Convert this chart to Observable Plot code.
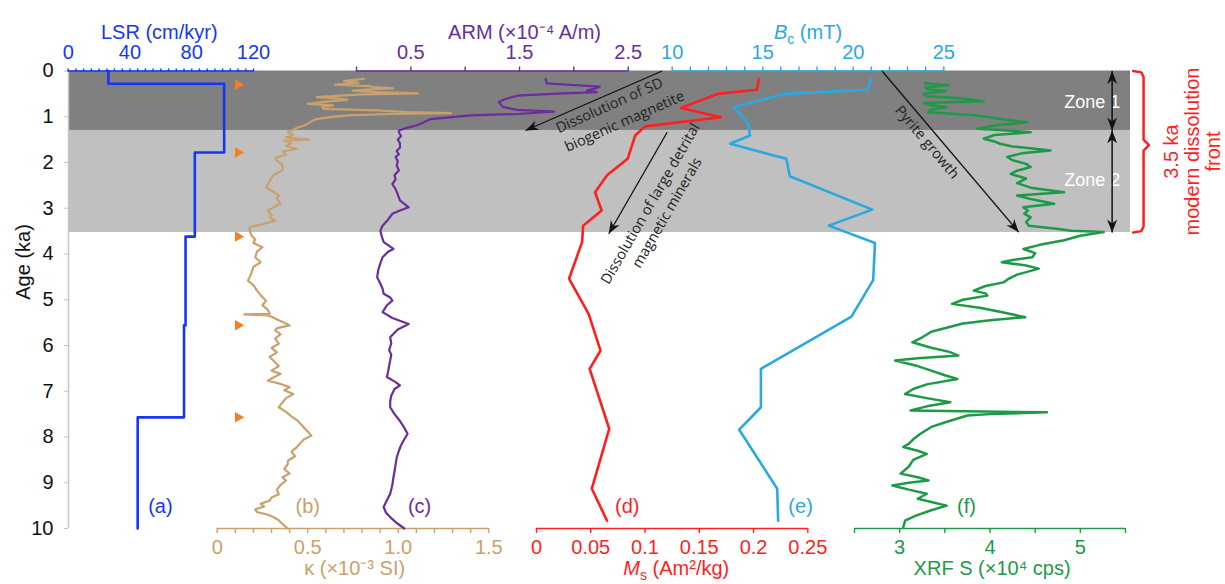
<!DOCTYPE html>
<html><head><meta charset="utf-8">
<script src="https://cdn.jsdelivr.net/npm/d3@7"></script>
<script src="https://cdn.jsdelivr.net/npm/@observablehq/plot@0.6"></script>
<style>
body{margin:0;background:#fff;}
#chart{position:relative;width:1225px;height:584px;}
#chart svg{position:absolute;left:0;top:0;}
</style></head><body><div id="chart"></div>
<script>
// ---------------- DATA ----------------
// (a) linear sedimentation rate, step profile
const lsrAge  = [0, 0.28, 1.78, 3.62, 5.56, 7.57, 10];
const lsrRate = [26, 101, 82, 76, 75, 45, 45];
// radiocarbon control points (orange triangles)
const controlAges = [0.3, 1.78, 3.62, 5.56, 7.57];

// (b) magnetic susceptibility κ (×10^-3 SI)
const kappaAge = [0.17,0.22,0.26,0.30,0.33,0.35,0.38,0.41,0.43,0.46,0.49,0.51,0.54,0.57,0.60,0.63,0.67,0.72,0.75,0.79,0.83,0.86,0.90,0.92,0.94,0.97,1.01,1.05,1.10,1.15,1.19,1.24,1.29,1.34,1.40,1.45,1.50,1.52,1.58,1.64,1.70,1.76,1.83,1.90,1.96,2.05,2.17,2.28,2.40,2.54,2.64,2.72,2.80,2.90,2.98,3.06,3.14,3.20,3.27,3.35,3.41,3.50,3.60,3.68,3.76,3.85,3.95,4.07,4.18,4.28,4.40,4.50,4.58,4.68,4.80,4.90,5.02,5.12,5.22,5.31,5.32,5.34,5.37,5.45,5.52,5.56,5.62,5.67,5.75,5.85,5.96,6.05,6.15,6.25,6.33,6.45,6.55,6.62,6.70,6.77,6.84,6.91,6.98,7.06,7.15,7.25,7.35,7.45,7.55,7.63,7.71,7.80,7.88,7.97,8.05,8.13,8.22,8.32,8.42,8.52,8.59,8.70,8.80,8.88,8.95,9.05,9.15,9.25,9.32,9.39,9.46,9.52,9.58,9.64,9.70,9.75,9.82,9.90,10.0];
const kappaValue = [0.81,0.70,0.78,0.65,0.84,0.86,0.97,0.80,0.75,0.88,1.11,0.80,0.68,0.55,0.66,0.72,0.60,0.50,0.64,0.58,0.59,0.88,1.05,1.29,0.95,0.72,0.62,0.55,0.52,0.50,0.48,0.44,0.42,0.39,0.42,0.38,0.51,0.37,0.41,0.38,0.44,0.36,0.38,0.32,0.33,0.36,0.36,0.31,0.29,0.27,0.31,0.34,0.33,0.35,0.31,0.28,0.30,0.29,0.32,0.25,0.18,0.18,0.19,0.21,0.20,0.25,0.22,0.21,0.24,0.20,0.19,0.18,0.17,0.20,0.22,0.24,0.27,0.25,0.28,0.29,0.15,0.27,0.30,0.34,0.38,0.40,0.33,0.32,0.35,0.32,0.34,0.30,0.33,0.29,0.31,0.34,0.30,0.35,0.31,0.28,0.35,0.40,0.37,0.42,0.38,0.36,0.34,0.38,0.41,0.44,0.46,0.48,0.50,0.52,0.48,0.46,0.44,0.41,0.43,0.39,0.39,0.37,0.40,0.36,0.38,0.35,0.33,0.34,0.30,0.29,0.24,0.26,0.21,0.22,0.28,0.31,0.34,0.36,0.39];

// (c) ARM (×10^-4 A/m)
const armAge = [0.17,0.27,0.30,0.34,0.38,0.43,0.46,0.50,0.54,0.60,0.68,0.74,0.79,0.85,0.89,0.94,0.97,1.05,1.12,1.19,1.25,1.30,1.34,1.42,1.50,1.58,1.67,1.75,1.82,1.88,1.97,2.07,2.17,2.28,2.37,2.47,2.58,2.70,2.83,2.98,3.05,3.12,3.25,3.38,3.49,3.60,3.74,3.89,3.95,4.07,4.20,4.35,4.51,4.65,4.76,4.87,4.95,5.02,5.12,5.27,5.40,5.53,5.65,5.82,5.95,6.10,6.20,6.33,6.45,6.58,6.69,6.80,6.87,6.95,7.10,7.22,7.35,7.50,7.65,7.80,7.93,8.05,8.18,8.30,8.45,8.60,8.75,8.88,9.05,9.24,9.38,9.53,9.65,9.75,9.88,10.0];
const armValue = [1.74,1.75,1.95,2.24,2.20,2.12,2.21,1.80,1.48,1.38,1.31,1.33,1.35,1.48,1.82,1.48,1.05,0.68,0.62,0.55,0.45,0.39,0.39,0.41,0.38,0.40,0.40,0.37,0.39,0.36,0.38,0.37,0.39,0.35,0.36,0.33,0.36,0.38,0.40,0.48,0.40,0.33,0.29,0.24,0.22,0.23,0.25,0.34,0.29,0.24,0.22,0.20,0.19,0.22,0.24,0.25,0.31,0.33,0.28,0.24,0.33,0.48,0.38,0.31,0.32,0.30,0.32,0.31,0.30,0.29,0.28,0.36,0.40,0.35,0.32,0.31,0.31,0.35,0.40,0.44,0.47,0.44,0.41,0.39,0.37,0.36,0.35,0.34,0.33,0.31,0.28,0.25,0.27,0.31,0.37,0.44];

// (d) saturation magnetization Ms (Am2/kg)
const msAge   = [0.17,0.41,0.50,0.81,1.01,1.21,1.41,1.92,2.28,2.65,3.05,3.38,3.74,4.54,5.31,6.11,6.51,7.82,9.13,9.83];
const msValue = [0.205,0.203,0.167,0.133,0.170,0.100,0.091,0.084,0.065,0.054,0.060,0.043,0.042,0.030,0.048,0.059,0.049,0.067,0.051,0.065];

// (e) coercivity Bc (mT)
const bcAge   = [0.17,0.41,0.50,0.79,1.15,1.41,1.59,1.92,2.30,3.03,3.38,3.76,4.57,5.37,6.51,7.35,7.84,9.13,9.83];
const bcValue = [21.0,20.8,16.2,13.4,14.2,14.3,13.2,16.3,16.5,21.05,18.65,21.2,21.1,19.9,14.9,14.9,13.7,15.8,15.85];

// (f) XRF S (×10^4 cps)
const xrfAge = [0.27,0.31,0.36,0.40,0.44,0.50,0.55,0.60,0.66,0.70,0.75,0.79,0.84,0.90,0.96,1.01,1.06,1.12,1.18,1.26,1.30,1.34,1.40,1.48,1.54,1.59,1.65,1.74,1.80,1.88,1.95,2.03,2.10,2.18,2.25,2.35,2.45,2.55,2.65,2.72,2.80,2.90,2.98,3.05,3.12,3.20,3.30,3.38,3.45,3.49,3.52,3.60,3.70,3.80,3.89,3.98,4.07,4.13,4.18,4.25,4.32,4.45,4.55,4.62,4.70,4.80,4.86,4.91,5.00,5.09,5.18,5.28,5.38,5.45,5.52,5.60,5.70,5.82,5.93,6.05,6.14,6.22,6.28,6.33,6.45,6.55,6.65,6.73,6.85,6.95,7.06,7.15,7.24,7.33,7.42,7.46,7.50,7.53,7.65,7.78,7.93,8.05,8.15,8.22,8.30,8.37,8.50,8.65,8.80,8.88,8.95,9.00,9.06,9.15,9.24,9.35,9.42,9.50,9.60,9.72,9.83,9.97];
const xrfValue = [3.28,3.54,3.29,3.30,3.51,3.26,3.30,3.70,3.93,3.27,3.35,3.52,3.35,3.32,3.80,4.00,4.15,4.41,4.10,3.86,4.20,4.45,4.05,3.93,4.05,4.11,4.25,4.67,4.35,4.19,4.25,4.40,4.45,4.30,4.23,4.40,4.30,4.45,4.82,4.30,4.45,4.71,4.37,4.42,4.38,4.45,4.40,4.43,4.74,4.90,5.26,5.00,4.82,4.55,4.37,4.50,4.47,4.25,4.13,4.40,4.54,4.30,4.20,4.15,3.95,3.82,3.95,3.97,3.70,3.58,3.90,4.15,4.39,4.00,3.70,3.54,3.35,3.25,3.14,3.35,3.55,3.65,3.20,2.95,3.20,3.35,3.50,3.64,3.30,3.15,3.06,3.30,3.56,3.30,3.12,4.63,4.00,3.75,3.55,3.35,3.23,3.15,3.10,3.04,3.20,3.30,3.15,3.10,3.01,3.20,3.32,3.10,2.92,3.10,3.30,3.20,3.35,3.52,3.35,3.18,3.06,3.04];

// zones (ka)
const zoneBounds = [0, 1.3, 3.53];
const zoneNames = ["Zone 1", "Zone 2"];

// axis ticks
const ageTicks = [0,1,2,3,4,5,6,7,8,9,10];
const lsrTicks = d3.range(0, 121, 5), lsrLabels = [0, 40, 80, 120];
const kappaTicks = d3.range(0, 16).map(i => i / 10), kappaLabels = [0, 0.5, 1.0, 1.5];
const armTicks = [0, 0.5, 1, 1.5, 2, 2.5], armLabels = [0.5, 1.5, 2.5];
const msTicks = [0, 0.05, 0.1, 0.15, 0.2, 0.25];
const bcTicks = d3.range(10, 26, 1), bcLabels = [10, 15, 20, 25];
const xrfTicks = [2.5, 3, 3.5, 4, 4.5, 5, 5.5], xrfLabels = [3, 4, 5];

// ---------------- STYLE ----------------
const W = 1225, H = 584, MT = 70.5, MB = 56;
const FONT = "'Liberation Sans', Arial, sans-serif";
const ANN = "'Open Sans', sans-serif";
const C = {lsr:"#1438f2", kappa:"#c9a16d", arm:"#6b2c9c", ms:"#ff1f1f", bc:"#2aa9e1", xrf:"#1c9a47", tri:"#f47f24"};
const FS = 20;

function filledHead(color) {
  return () => {
    const m = d3.create("svg:marker")
      .attr("viewBox", "-13 -6 14 12")
      .attr("markerWidth", 14).attr("markerHeight", 12)
      .attr("markerUnits", "userSpaceOnUse")
      .attr("orient", "auto-start-reverse")
      .attr("fill", color).attr("stroke", "none");
    m.append("path").attr("d", "M0,0L-13,-5L-9,0L-13,5Z");
    return m.node();
  };
}

function layer(x, marks) {
  return Plot.plot({
    width: W, height: H, marginTop: MT, marginBottom: MB, marginLeft: 68, marginRight: 95,
    x: {...x, axis: null}, y: {domain: [0, 10], reverse: true, axis: null},
    style: {background: "transparent", fontFamily: FONT, overflow: "visible"},
    marks
  });
}

function topAxis(dom, ticks, labels, color, tickLen, fmt = d => String(d)) {
  return [
    Plot.ruleY([0], {x1: dom[0], x2: dom[1], stroke: color, strokeWidth: 1.6}),
    Plot.axisX({anchor: "top", ticks, tickSize: tickLen, tickFormat: () => "", color, label: null, strokeWidth: 1.4}),
    Plot.axisX({anchor: "top", ticks: labels, tickSize: 0, tickPadding: 12, tickFormat: fmt, color, fontSize: FS, label: null})
  ];
}
function bottomAxis(dom, ticks, labels, color, fmt = d => String(d)) {
  return [
    Plot.ruleY([10], {x1: dom[0], x2: dom[1], stroke: color, strokeWidth: 1.6}),
    Plot.axisX({anchor: "bottom", ticks, tickSize: 5, tickFormat: () => "", color, label: null, strokeWidth: 1.4}),
    Plot.axisX({anchor: "bottom", ticks: labels, tickSize: 0, tickPadding: 11.5, tickFormat: fmt, color, fontSize: FS, label: null})
  ];
}
const title = (t, x, color, top) => Plot.text([t], {x, frameAnchor: top ? "top" : "bottom", dy: top ? -46.5 : 46.5, fill: color, fontSize: FS, fontFamily: FONT});
const panel = (t, x, color) => Plot.text([t], {x, y: 9.53, fill: color, fontSize: FS, fontFamily: FONT});

const chart = document.getElementById("chart");

// base layer: zones + age axis
chart.append(layer({domain: [0, 1]}, [
  Plot.rect(zoneNames, {x1: 0, x2: 1, y1: zoneBounds.slice(0, 2), y2: zoneBounds.slice(1), fill: ["#808080", "#c0c0c0"]}),
  Plot.ruleX([0], {y1: 0, y2: 10, stroke: "#c4c4c4", strokeWidth: 1.5}),
  Plot.axisY({anchor: "left", ticks: ageTicks, tickSize: 4, tickPadding: 11, stroke: "#c4c4c4", fill: "#111", fontSize: FS, label: null}),
  Plot.text(["Age (ka)"], {frameAnchor: "left", dx: -45, rotate: -90, fontSize: FS, fill: "#111", fontFamily: FONT})
]));

// (a) LSR
chart.append(layer({domain: [0, 120], range: [67.7, 253]}, [
  Plot.line(lsrAge, {x: lsrRate, y: lsrAge, curve: "step-before", stroke: C.lsr, strokeWidth: 2.6}),
  Plot.dot(controlAges, {x: 110, y: d => d, symbol: "triangle", rotate: 90, r: 3.9, fill: C.tri}),
  ...topAxis([0, 120], lsrTicks, lsrLabels, C.lsr, 3),
  title("LSR (cm/kyr)", 59, C.lsr, true),
  panel("(a)", 59.7, C.lsr)
]));

// (b) kappa
chart.append(layer({domain: [0, 1.5], range: [216.7, 488.3]}, [
  Plot.line(kappaAge, {x: kappaValue, y: kappaAge, stroke: C.kappa, strokeWidth: 2.2}),
  ...bottomAxis([0, 1.5], kappaTicks, kappaLabels, C.kappa, d => d3.format(".1f")(d).replace(/^0\.0$/, "0")),
  title("κ (×10⁻³ SI)", 0.759, C.kappa, false),
  panel("(b)", 0.50, C.kappa)
]));

// (c) ARM
chart.append(layer({domain: [0, 2.5], range: [356, 627.7]}, [
  Plot.line(armAge, {x: armValue, y: armAge, stroke: C.arm, strokeWidth: 2.2}),
  ...topAxis([0, 2.5], armTicks, armLabels, C.arm, 5),
  title("ARM (×10⁻⁴ A/m)", 1.546, C.arm, true),
  panel("(c)", 0.58, C.arm),
  Plot.link([0], {x1: 2.812, y1: 0, x2: 1.555, y2: 1.30, stroke: "#111", strokeWidth: 1.3, markerEnd: filledHead("#111")}),
  Plot.text(["Dissolution of SD"], {x: 2.328, y: 0.754, rotate: -24, fontSize: 14.5, fontFamily: ANN, fill: "#222"}),
  Plot.text(["biogenic magnetite"], {x: 2.466, y: 1.104, rotate: -24, fontSize: 14.5, fontFamily: ANN, fill: "#222"})
]));

// (d) Ms
chart.append(layer({domain: [0, 0.25], range: [536, 807.3]}, [
  Plot.line(msAge, {x: msValue, y: msAge, stroke: C.ms, strokeWidth: 2.6}),
  ...bottomAxis([0, 0.25], msTicks, msTicks, C.ms),
  title("Ms (Am²/kg)", 0.1288, C.ms, false),
  panel("(d)", 0.0836, C.ms),
  Plot.link([0], {x1: 0.1204, y1: 1.338, x2: 0.0666, y2: 3.558, stroke: "#111", strokeWidth: 1.3, markerEnd: filledHead("#111")}),
  Plot.text(["Dissolution of large detrital"], {x: 0.105, y: 2.903, rotate: -60, fontSize: 14.5, fontFamily: ANN, fill: "#222"}),
  Plot.text(["magnetic minerals"], {x: 0.1204, y: 3.10, rotate: -60, fontSize: 14.5, fontFamily: ANN, fill: "#222"})
]));

// (e) Bc
chart.append(layer({domain: [10, 25], range: [671.7, 943.3]}, [
  Plot.line(bcAge, {x: bcValue, y: bcAge, stroke: C.bc, strokeWidth: 2.6}),
  ...topAxis([10, 25], bcTicks, bcLabels, C.bc, 5),
  title("Bc (mT)", 17.5, C.bc, true),
  panel("(e)", 17.09, C.bc)
]));

// (f) XRF S
chart.append(layer({domain: [2.5, 5.5], range: [854, 1125]}, [
  Plot.line(xrfAge, {x: xrfValue, y: xrfAge, stroke: C.xrf, strokeWidth: 2.5}),
  ...bottomAxis([2.5, 5.5], xrfTicks, xrfLabels, C.xrf),
  title("XRF S (×10⁴ cps)", 4.023, C.xrf, false),
  panel("(f)", 3.74, C.xrf),
  Plot.link([0], {x1: 2.805, y1: 0, x2: 4.318, y2: 3.523, stroke: "#111", strokeWidth: 1.3, markerEnd: filledHead("#111")}),
  Plot.text(["Pyrite growth"], {x: 3.303, y: 1.556, rotate: 49.8, fontSize: 14.5, fontFamily: ANN, fill: "#222"}),
  Plot.text(zoneNames, {x: 5.131, y: [0.68, 2.39], fill: "white", fontSize: 18, fontFamily: FONT}),
  Plot.link(zoneNames, {x1: 5.352, x2: 5.352, y1: zoneBounds.slice(0, 2), y2: zoneBounds.slice(1), stroke: "#111", strokeWidth: 1.5, markerStart: filledHead("#111"), markerEnd: filledHead("#111")}),
  Plot.line([0, 1, 2, 3, 4, 5, 6, 7, 8], {
    x: [5.585, 5.675, 5.70, 5.70, 5.76, 5.70, 5.70, 5.675, 5.585],
    y: [0.0, 0.03, 0.13, 1.50, 1.62, 1.74, 3.40, 3.50, 3.53],
    stroke: C.ms, strokeWidth: 2.5, curve: "linear"}),
  Plot.text(["3.5 ka\nmodern dissolution\nfront"], {x: 6.241, y: 1.76, rotate: -90, fontSize: 20, lineHeight: 1.05, fill: C.ms, fontFamily: FONT})
]));

// italic symbols with subscripts
function rich(plain, parts) {
  d3.select(chart).selectAll("text").filter(function () { return this.textContent === plain; }).each(function () {
    const t = d3.select(this); t.text(null);
    parts.forEach(p => {
      const s = t.append("tspan").text(p.t);
      if (p.i) s.attr("font-style", "italic");
      if (p.sub) s.attr("dy", 5).attr("font-size", 14);
      if (p.back) s.attr("dy", -5);
    });
  });
}
rich("Bc (mT)", [{t: "B", i: true}, {t: "c", sub: true}, {t: " (mT)", back: true}]);
rich("Ms (Am²/kg)", [{t: "M", i: true}, {t: "s", sub: true}, {t: " (Am²/kg)", back: true}]);
</script></body></html>
